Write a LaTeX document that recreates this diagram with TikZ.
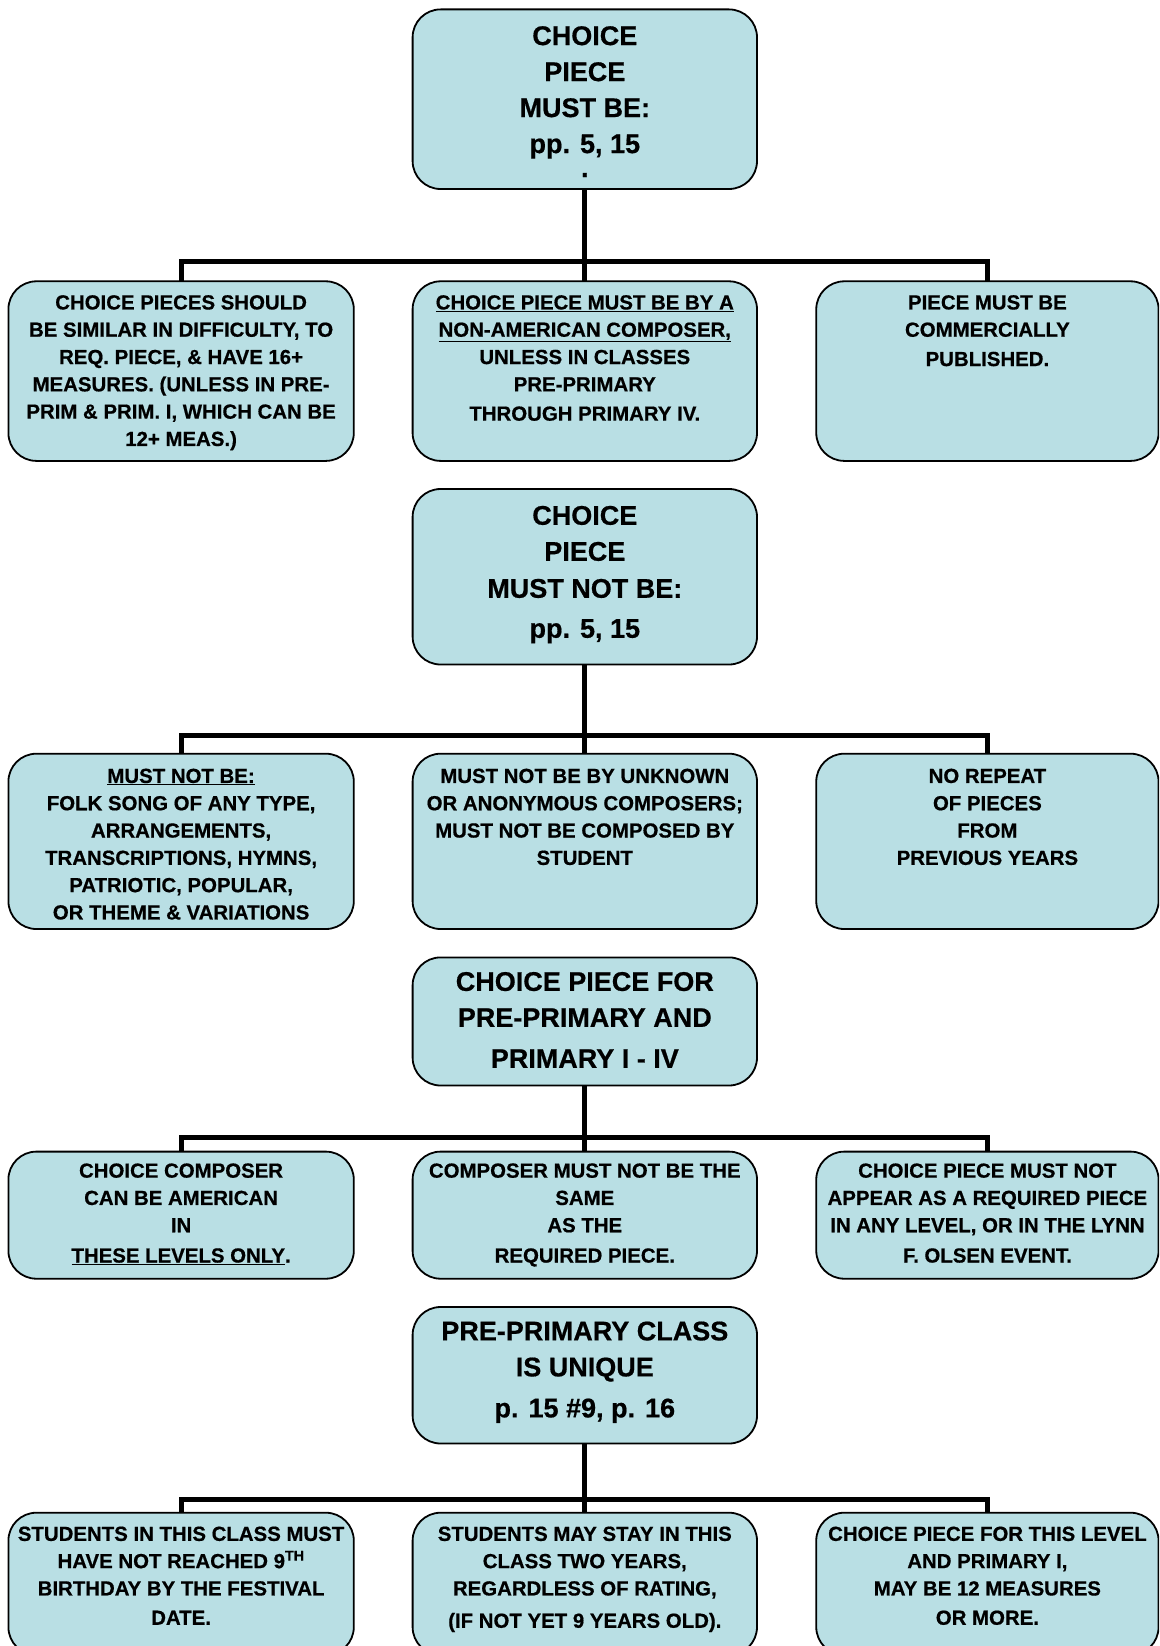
\documentclass[tikz,border=0pt]{standalone}
\usepackage{fontspec}
\setmainfont{Liberation Sans}[BoldFeatures={FakeBold=0.6}]
\definecolor{boxblue}{RGB}{185,223,228}
\begin{document}
\begin{tikzpicture}[x=1pt,y=-1pt,
  box/.style={draw=black, line width=1.8pt, fill=boxblue, rounded corners=28pt, inner sep=0pt, outer sep=0pt},
  ptxt/.style={anchor=north, align=center, inner sep=0pt, font=\fontsize{27}{36}\selectfont\bfseries},
  ctxt/.style={anchor=north, align=center, inner sep=0pt, font=\fontsize{20.4}{27.3}\selectfont\bfseries},
  conn/.style={line width=5pt, line join=miter}]
\useasboundingbox (0,0) rectangle (1159,1646);
\clip (0,0) rectangle (1159,1646);
% ---------- boxes ----------
% level 1
\node[box, minimum width=344.4pt, minimum height=179.6pt] (p1) at (584.8,99.2) {};
\node[box, minimum width=345.4pt, minimum height=179.6pt] (c1l) at (181.1,371.1) {};
\node[box, minimum width=344.4pt, minimum height=179.6pt] (c1m) at (584.8,371.1) {};
\node[box, minimum width=342.3pt, minimum height=179.6pt] (c1r) at (987.4,371.1) {};
% level 2
\node[box, minimum width=344.4pt, minimum height=175.5pt] (p2) at (584.8,576.75) {};
\node[box, minimum width=345.4pt, minimum height=175.3pt] (c2l) at (181.1,841.35) {};
\node[box, minimum width=344.4pt, minimum height=175.3pt] (c2m) at (584.8,841.35) {};
\node[box, minimum width=342.3pt, minimum height=175.3pt] (c2r) at (987.4,841.35) {};
% level 3
\node[box, minimum width=344.4pt, minimum height=128.1pt] (p3) at (584.8,1021.45) {};
\node[box, minimum width=345.4pt, minimum height=127.1pt] (c3l) at (181.1,1215.15) {};
\node[box, minimum width=344.4pt, minimum height=127.1pt] (c3m) at (584.8,1215.15) {};
\node[box, minimum width=342.3pt, minimum height=127.1pt] (c3r) at (987.4,1215.15) {};
% level 4
\node[box, minimum width=344.4pt, minimum height=136.5pt] (p4) at (584.8,1375.25) {};
\node[box, minimum width=345.4pt, minimum height=142.3pt] (c4l) at (181.1,1583.85) {};
\node[box, minimum width=344.4pt, minimum height=142.3pt] (c4m) at (584.8,1583.85) {};
\node[box, minimum width=342.3pt, minimum height=142.3pt] (c4r) at (987.4,1583.85) {};
% ---------- connectors ----------
\coordinate (b1) at (584.8,261.5);
\coordinate (b2) at (584.8,735.3);
\coordinate (b3) at (584.8,1137);
\coordinate (b4) at (584.8,1499);
\draw[conn] (p1.south) -- (c1m.north);
\draw[conn] (c1l.north) |- (b1) -| (c1r.north);
\draw[conn] (p2.south) -- (c2m.north);
\draw[conn] (c2l.north) |- (b2) -| (c2r.north);
\draw[conn] (p3.south) -- (c3m.north);
\draw[conn] (c3l.north) |- (b3) -| (c3r.north);
\draw[conn] (p4.south) -- (c4m.north);
\draw[conn] (c4l.north) |- (b4) -| (c4r.north);
% ---------- texts ----------
\node[ptxt] (p1t) at (584.8,26) {CHOICE\\PIECE\\MUST BE:\\pp. 5, 15\\[-12pt].};
\node[ctxt] (c1lt) at (181.1,295) {CHOICE PIECES SHOULD\\BE SIMILAR IN DIFFICULTY, TO\\REQ. PIECE, \& HAVE 16+\\MEASURES. (UNLESS IN PRE-\\PRIM \& PRIM. I, WHICH CAN BE\\12+ MEAS.)};
\node[ctxt] (c1mt) at (584.8,295) {\underline{CHOICE PIECE MUST BE BY A}\\\underline{NON-AMERICAN COMPOSER,}\\UNLESS IN CLASSES\\PRE-PRIMARY\\[2pt]THROUGH PRIMARY IV.};
\node[ctxt] (c1rt) at (987.4,295) {PIECE MUST BE\\COMMERCIALLY\\[2pt]PUBLISHED.};

\node[ptxt] (p2t) at (584.8,505.7) {CHOICE\\PIECE\\[1pt]MUST NOT BE:\\[4pt]pp. 5, 15};
\node[ctxt] (c2lt) at (181.1,768.5) {\underline{MUST NOT BE:}\\FOLK SONG OF ANY TYPE,\\ARRANGEMENTS,\\TRANSCRIPTIONS, HYMNS,\\PATRIOTIC, POPULAR,\\OR THEME \& VARIATIONS};
\node[ctxt] (c2mt) at (584.8,768.5) {MUST NOT BE BY UNKNOWN\\OR ANONYMOUS COMPOSERS;\\MUST NOT BE COMPOSED BY\\STUDENT};
\node[ctxt] (c2rt) at (987.4,768.5) {NO REPEAT\\OF PIECES\\FROM\\PREVIOUS YEARS};

\node[ptxt] (p3t) at (584.8,971.8) {CHOICE PIECE FOR\\PRE-PRIMARY AND\\[5pt]PRIMARY I - IV};
\node[ctxt] (c3lt) at (181.1,1163.2) {CHOICE COMPOSER\\CAN BE AMERICAN\\IN\\[3pt]\underline{THESE LEVELS ONLY}.};
\node[ctxt] (c3mt) at (584.8,1163.2) {COMPOSER MUST NOT BE THE\\SAME\\AS THE\\[3pt]REQUIRED PIECE.};
\node[ctxt] (c3rt) at (987.4,1163.2) {CHOICE PIECE MUST NOT\\APPEAR AS A REQUIRED PIECE\\IN ANY LEVEL, OR IN THE LYNN\\[3pt]F. OLSEN EVENT.};

\node[ptxt] (p4t) at (584.8,1321.3) {PRE-PRIMARY CLASS\\IS UNIQUE\\[5pt]p. 15 \#9, p. 16};
\node[ctxt] (c4lt) at (181.1,1526.4) {STUDENTS IN THIS CLASS MUST\\HAVE NOT REACHED 9\textsuperscript{TH}\\BIRTHDAY BY THE FESTIVAL\\[2pt]DATE.};
\node[ctxt] (c4mt) at (584.8,1526.4) {STUDENTS MAY STAY IN THIS\\CLASS TWO YEARS,\\REGARDLESS OF RATING,\\[5pt](IF NOT YET 9 YEARS OLD).};
\node[ctxt] (c4rt) at (987.4,1526.4) {CHOICE PIECE FOR THIS LEVEL\\AND PRIMARY I,\\MAY BE 12 MEASURES\\[2pt]OR MORE.};
\end{tikzpicture}
\end{document}
